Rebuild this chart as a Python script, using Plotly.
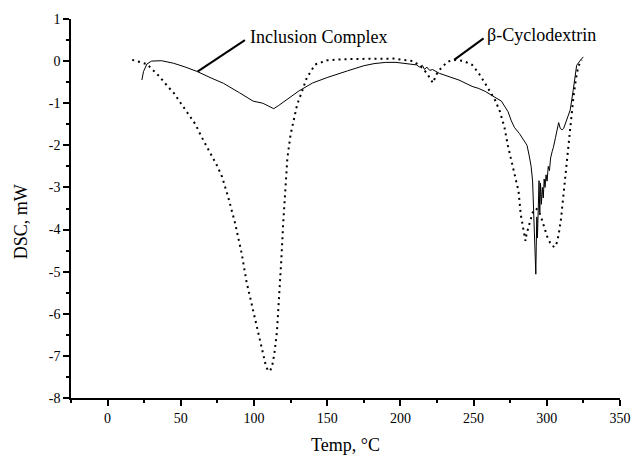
import plotly.graph_objects as go

# ---- data ----
complex_x = [23.4, 24.5, 26.8, 30, 36.8, 45, 53, 61.4, 70, 79.3, 90, 99.4, 106, 110, 113.5, 117, 122,
             130.6, 140, 150, 164, 175, 182, 190, 197, 203, 208.8, 211, 213, 215, 216.5, 218, 220, 222,
             226.6, 233, 240, 249, 253.5, 258, 262.4, 264.6, 269, 273.5, 275.8, 278, 281.3, 284.7, 286.5,
             288, 289.3, 290.3, 291, 291.8, 292.3, 292.5, 292.8, 293.2, 293.6, 294.1, 294.7, 295.2, 295.7,
             296.3, 297, 297.6, 298.2, 298.8, 299.5, 300.2, 301, 301.8, 302.6, 303.7, 304.5, 305.9, 307,
             308.1, 309.2, 310.5, 311.5, 312.5, 313.4, 315, 316, 318, 320.4, 322.5, 324.9]
complex_y = [-0.45, -0.25, -0.07, 0.0, 0.01, -0.05, -0.14, -0.25, -0.39, -0.53, -0.75, -0.95, -1.0, -1.07,
             -1.13, -1.05, -0.92, -0.71, -0.52, -0.39, -0.23, -0.11, -0.06, -0.03, -0.03, -0.05, -0.07,
             -0.09, -0.14, -0.1, -0.2, -0.14, -0.22, -0.2, -0.29, -0.37, -0.45, -0.6, -0.65, -0.72, -0.8,
             -0.86, -0.95, -1.2, -1.42, -1.58, -1.72, -1.9, -2.0, -2.25, -2.5, -2.85, -3.5, -4.04, -4.7,
             -5.06, -4.4, -3.7, -4.2, -3.3, -2.84, -3.6, -2.9, -3.4, -3.0, -3.25, -2.8, -3.0, -2.7, -2.85,
             -2.5, -2.6, -2.3, -2.14, -2.05, -1.82, -1.65, -1.46, -1.6, -1.63, -1.6, -1.5, -1.42, -1.3,
             -1.16, -0.7, -0.1, 0.0, 0.1]

cd_x = [16.8, 20, 23, 26.8, 30, 35, 41.3, 45.3, 50, 54.7, 60, 63.6, 67, 71.5, 75, 78.2, 82.6, 87.1, 91.6,
        94.9, 98.3, 101.6, 105, 107.8, 109.6, 111, 112.3, 113.9, 115.7, 117.2, 118.6, 119.9, 121.2, 122.8,
        125, 127.3, 129.5, 132.9, 136, 141.8, 150, 165, 180, 195.4, 208.8, 212, 215.4, 218.8, 222.2, 224,
        225.5, 228.9, 232.2, 237.8, 243.4, 249, 253.5, 257.9, 262.4, 264.6, 268, 271, 273.5, 275.8, 278.4,
        280.7, 282.2, 283.6, 284.7, 285.4, 286.2, 287.3, 288.7, 290.3, 292.5, 294.5, 296.5, 298, 300.3,
        303, 305.4, 307, 308.1, 309.7, 311, 312, 313.3, 314.8, 316, 318.2, 320, 321.5, 323.8]
cd_y = [0.03, 0.0, -0.02, -0.07, -0.18, -0.35, -0.61, -0.76, -1.0, -1.24, -1.5, -1.76, -1.98, -2.27, -2.5,
        -2.75, -3.26, -3.85, -4.57, -5.24, -5.76, -6.31, -6.83, -7.19, -7.36, -7.35, -7.26, -6.95, -6.41,
        -5.62, -4.75, -3.88, -3.09, -2.3, -1.74, -1.35, -1.03, -0.71, -0.4, -0.08, 0.02, 0.05, 0.06, 0.06,
        0.0, -0.08, -0.17, -0.33, -0.52, -0.37, -0.25, -0.13, -0.01, 0.03, 0.0, -0.09, -0.29, -0.53, -0.81,
        -0.92, -1.2, -1.56, -2.02, -2.37, -2.73, -3.09, -3.64, -3.96, -4.2, -4.27, -4.1, -3.96, -3.76,
        -3.6, -3.5, -3.55, -3.75, -3.93, -4.17, -4.37, -4.42, -4.3, -4.12, -3.75, -3.3, -2.86, -2.4,
        -1.9, -1.47, -0.85, -0.4, -0.13, 0.03]

labels = ["Inclusion Complex", "β-Cyclodextrin"]
label_pos = [(96, 0.58), (257.7, 0.62)]          # text anchor (left, middle)
leader_from = [(61.4, -0.25), (236.7, 0.03)]      # point on curve
leader_to = [(93.8, 0.5), (256.8, 0.54)]          # end near text

x_range = [-25, 350]
y_range = [-8, 1]
x_ticks = [0, 50, 100, 150, 200, 250, 300, 350]
y_ticks = [1, 0, -1, -2, -3, -4, -5, -6, -7, -8]

FONT = "Liberation Serif"

fig = go.Figure()
fig.add_trace(go.Scatter(x=complex_x, y=complex_y, mode="lines", name=labels[0],
                         line=dict(color="black", width=1), showlegend=False))
fig.add_trace(go.Scatter(x=cd_x, y=cd_y, mode="lines", name=labels[1],
                         line=dict(color="black", width=2, dash="2px,4px"), showlegend=False))

for (tx, ty), txt in zip(label_pos, labels):
    fig.add_annotation(x=tx, y=ty, text=txt, showarrow=False, xanchor="left", yanchor="middle",
                       font=dict(family=FONT, size=18, color="black"))
for (x0, y0), (x1, y1) in zip(leader_from, leader_to):
    fig.add_shape(type="line", x0=x0, y0=y0, x1=x1, y1=y1, line=dict(color="black", width=2))

fig.add_annotation(xref="paper", yref="paper", x=0.5, y=-0.124, text="Temp, °C", showarrow=False,
                   xanchor="center", yanchor="middle", font=dict(family=FONT, size=18, color="black"))
fig.add_annotation(xref="paper", yref="paper", x=-0.091, y=0.464, text="DSC, mW", showarrow=False,
                   textangle=-90, xanchor="center", yanchor="middle",
                   font=dict(family=FONT, size=18, color="black"))

fig.update_xaxes(range=x_range, tickvals=x_ticks, ticktext=[str(v) for v in x_ticks],
                 showline=True, linecolor="black", linewidth=1.5, ticks="outside", ticklen=6,
                 tickwidth=1.5, tickcolor="black", showgrid=False, zeroline=False,
                 tickfont=dict(family=FONT, size=14, color="black"),
                 minor=dict(ticks="outside", ticklen=3, tickwidth=1.5, tickcolor="black", dtick=25,
                            tick0=0, showgrid=False))
fig.update_yaxes(range=y_range, tickvals=y_ticks, ticktext=[str(v) for v in y_ticks],
                 showline=True, linecolor="black", linewidth=1.5, ticks="outside", ticklen=6,
                 tickwidth=1.5, tickcolor="black", showgrid=False, zeroline=False,
                 tickfont=dict(family=FONT, size=14, color="black"),
                 minor=dict(ticks="outside", ticklen=3, tickwidth=1.5, tickcolor="black", dtick=0.5,
                            tick0=0, showgrid=False))

fig.update_layout(width=643, height=455, margin=dict(l=71, r=12, t=19, b=57),
                  paper_bgcolor="white", plot_bgcolor="white", showlegend=False,
                  font=dict(family=FONT, color="black"))

fig.write_html("out.html")
